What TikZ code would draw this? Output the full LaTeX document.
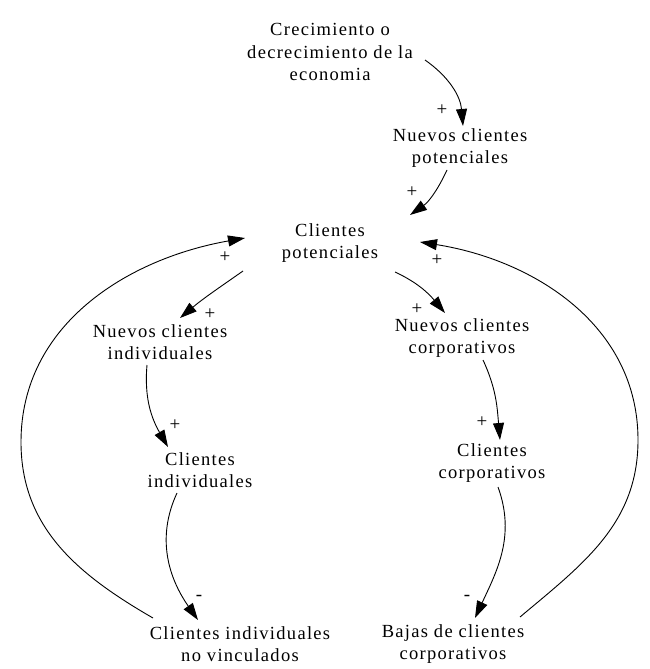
\documentclass[tikz,border=0pt]{standalone}
\usepackage{fontspec}
\setmainfont{Liberation Serif}
\newfontfamily\diagfont{Liberation Serif}[LetterSpace=7]
\usetikzlibrary{arrows.meta}
\tikzset{
  var/.style={align=center, inner sep=2pt, font=\diagfont\fontsize{18.5}{22.5}\selectfont},
  link/.style={line width=.9pt, -{Triangle[length=17pt,width=11pt]}},
  sign/.style={inner sep=0pt, font=\fontsize{19}{19}\selectfont}
}
\begin{document}
\begin{tikzpicture}[x=1pt,y=1pt]
\useasboundingbox (0,0) rectangle (650,-669);
% variables
\node[var] (cre)  at (330,-52)  {Crecimiento o\\decrecimiento de la\\economia};
\node[var] (ncp)  at (460,-148) {Nuevos clientes\\potenciales};
\node[var] (cp)   at (330,-243) {Clientes\\potenciales};
\node[var] (nci)  at (160,-342) {Nuevos clientes\\individuales};
\node[var] (ncc)  at (462,-338) {Nuevos clientes\\corporativos};
\node[var] (ci)   at (200,-470) {Clientes\\individuales};
\node[var] (cc)   at (492,-463) {Clientes\\corporativos};
\node[var] (cinv) at (240,-644) {Clientes individuales\\no vinculados};
\node[var] (bcc)  at (453,-644) {Bajas de clientes\\corporativos};
% turning points of the two outer loops
\coordinate (lw) at (21,-442);
\coordinate (rw) at (638,-440);
% links
\draw[link] ([shift={(95,-8)}]cre.center) to[out=-35,in=95] ([shift={(3,22)}]ncp.center);
\draw[link] ([shift={(-13,-22)}]ncp.center) to[out=-115,in=35] ([shift={(80,28)}]cp.center);
\draw[link] ([shift={(-87,-28)}]cp.center) to[out=-145,in=40] ([shift={(20,24)}]nci.center);
\draw[link] ([shift={(65,-29)}]cp.center) to[out=-25,in=130] ([shift={(-17,25)}]ncc.center);
\draw[link] ([shift={(-13,-23)}]nci.center) to[out=-95,in=120] ([shift={(-32,23)}]ci.center);
\draw[link] ([shift={(21,-22)}]ncc.center) to[out=-65,in=95] ([shift={(8,23)}]cc.center);
\draw[link] ([shift={(-23,-23)}]ci.center) to[out=-115,in=125] ([shift={(-42,24)}]cinv.center);
\draw[link] ([shift={(6,-24)}]cc.center) to[out=-70,in=65] ([shift={(22,26)}]bcc.center);
\draw[link] ([shift={(-87,26)}]cinv.center) to[out=150,in=-90] (lw) to[out=90,in=190] ([shift={(-85,5)}]cp.center);
\draw[link] ([shift={(67,27)}]bcc.center) to[out=40,in=-90] (rw) to[out=90,in=-9] ([shift={(90,1)}]cp.center);
% polarities
\node[sign] (s1)  at (442,-110) {+};
\node[sign] (s2)  at (412,-192) {+};
\node[sign] (s3)  at (210,-314) {+};
\node[sign] (s4)  at (417,-309) {+};
\node[sign] (s5)  at (175,-425) {+};
\node[sign] (s6)  at (482,-422) {+};
\node[sign] (s7)  at (199,-598) {-};
\node[sign] (s8)  at (467,-598) {-};
\node[sign] (s9)  at (225,-257) {+};
\node[sign] (s10) at (437,-260) {+};
\end{tikzpicture}
\end{document}
